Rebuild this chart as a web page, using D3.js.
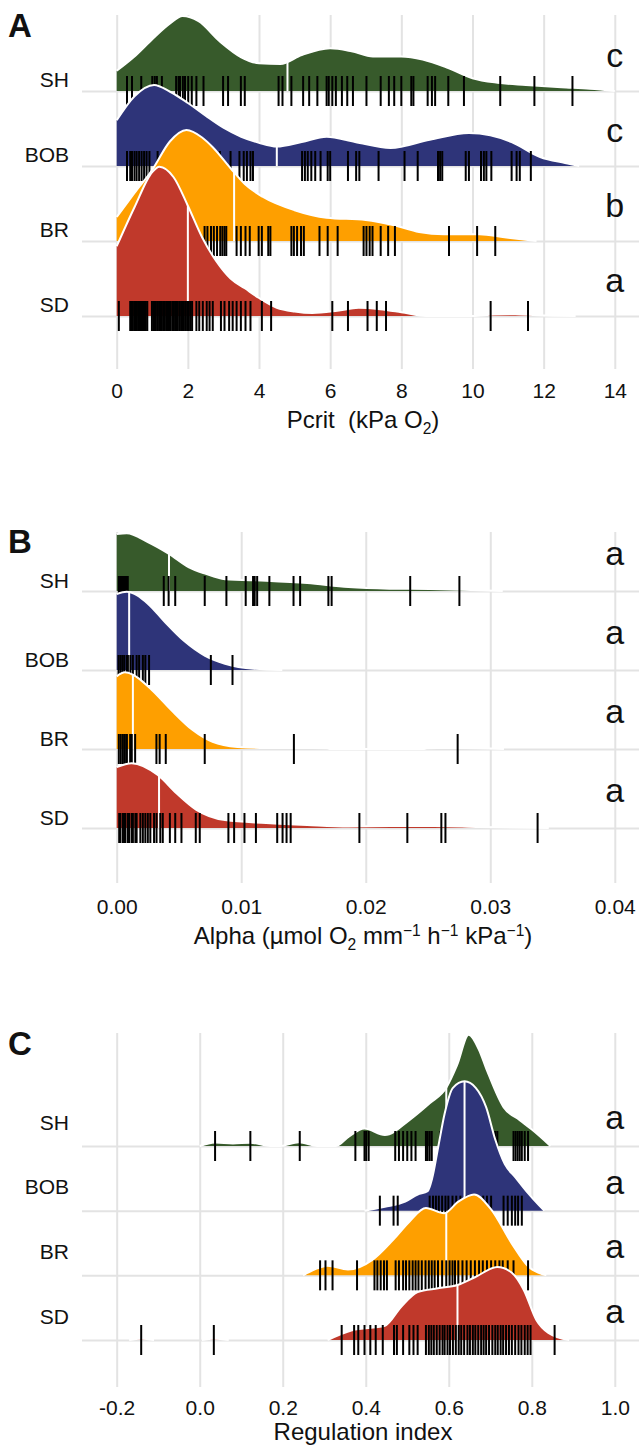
<!DOCTYPE html>
<html lang="en">
  <head>
    <meta charset="utf-8">
    <title>Ridgelines Pcrit / Alpha / Regulation index</title>
    <script src="https://d3js.org/d3.v7.min.js"></script>
    <style>
      body { margin: 0; background: #fff; }
      svg text { font-family: "Liberation Sans", Arial, sans-serif; fill: #111; }
    </style>
  </head>
  <body>
    <div id="chart"></div>
    <script>
      // grupos, de cima para baixo
      var grupos = ["SH", "BOB", "BR", "SD"];
      var cores = ["#375a2b", "#2e3479", "#fe9f00", "#c0392b"];

      // ---- A: Pcrit (kPa O2)
      var pcritTicks = [0, 2, 4, 6, 8, 10, 12, 14];
      var pcritLetras = ["c", "c", "b", "a"];
      var pcritMedianas = [4.8, 4.5, 3.3, 2.0];
      var pcritSH = [0.29, 0.43, 0.69, 1.00, 1.07, 1.13, 1.27, 1.67, 1.74, 1.78, 1.86, 1.92, 2.01, 2.11, 2.24, 2.44,
        2.99, 3.13, 3.49, 3.60, 4.55, 4.66, 4.91, 5.24, 5.41, 5.64, 5.90, 5.96, 6.06, 6.16, 6.33, 6.48, 6.64, 7.02,
        7.42, 7.65, 7.80, 8.00, 8.28, 8.34, 8.74, 8.86, 8.95, 9.32, 9.76, 10.78, 11.74, 12.81];
      var pcritBOB = [0.29, 0.38, 0.43, 0.50, 0.56, 0.63, 0.70, 0.77, 0.84, 0.92, 1.15, 1.3, 1.45, 1.6, 1.8, 2.05,
        2.3, 2.6, 2.9, 3.2, 3.45, 3.57, 3.66, 3.76, 3.83, 5.21, 5.29, 5.37, 5.47, 5.58, 5.73, 5.93, 6.00, 6.50, 6.73,
        6.82, 7.36, 8.09, 8.46, 9.03, 9.09, 9.15, 9.81, 9.90, 10.24, 10.32, 10.39, 10.53, 11.10, 11.24, 11.33, 11.64];
      var pcritBR = [0.6, 0.85, 1.05, 1.2, 1.35, 1.5, 1.65, 1.8, 1.9, 2.0, 2.1, 2.47, 2.55, 2.65, 2.73, 2.82, 2.91,
        2.97, 3.03, 3.08, 3.37, 3.49, 3.62, 3.74, 3.99, 4.08, 4.26, 4.32, 4.91, 4.98, 5.07, 5.18, 5.26, 5.70, 5.93,
        6.21, 6.94, 7.02, 7.11, 7.19, 7.42, 7.63, 7.82, 9.34, 10.13, 10.64];
      var pcritSD = [0.06, 0.38, 0.41, 0.45, 0.49, 0.52, 0.56, 0.6, 0.63, 0.67, 0.71, 0.74, 0.78, 0.82, 0.86, 0.99,
        1.03, 1.07, 1.1, 1.14, 1.19, 1.23, 1.27, 1.31, 1.35, 1.39, 1.43, 1.47, 1.51, 1.56, 1.6, 1.64, 1.68, 1.72,
        1.77, 1.81, 1.85, 1.89, 1.94, 1.98, 2.03, 2.08, 2.12, 2.24, 2.32, 2.42, 2.53, 2.61, 2.70, 2.93, 3.03, 3.16,
        3.26, 3.37, 3.49, 3.62, 3.76, 4.08, 4.34, 6.06, 6.50, 7.05, 7.31, 7.57, 10.51, 11.56];
      // densidades [valor, altura relativa ao espaçamento entre linhas]
      var densPcritSH = [[0, 0.27], [0.5, 0.46], [1.0, 0.69], [1.5, 0.9], [1.85, 1.0], [2.3, 0.93], [2.9, 0.66],
        [3.5, 0.45], [4.0, 0.37], [4.6, 0.36], [5.2, 0.48], [6.0, 0.57], [6.6, 0.53], [7.2, 0.46], [8.0, 0.46],
        [8.6, 0.42], [9.3, 0.31], [10.0, 0.17], [10.7, 0.11], [11.5, 0.08], [12.5, 0.05], [13.3, 0.03], [14.0, 0]];
      var densPcritBOB = [[0, 0.61], [0.5, 0.93], [1.05, 1.08], [1.5, 0.99], [2.0, 0.84], [2.5, 0.67], [3.0, 0.51],
        [3.5, 0.39], [4.0, 0.31], [4.5, 0.26], [5.2, 0.32], [5.9, 0.39], [6.7, 0.32], [7.7, 0.24], [8.8, 0.35],
        [9.9, 0.44], [10.5, 0.41], [11.1, 0.32], [11.9, 0.12], [12.6, 0.04], [13.0, 0]];
      var densPcritBR = [[0, 0.32], [0.5, 0.64], [1.0, 0.95], [1.5, 1.33], [1.96, 1.48], [2.4, 1.38], [2.7, 1.25],
        [3.2, 0.97], [3.6, 0.76], [4.1, 0.59], [5.0, 0.41], [5.9, 0.31], [7.0, 0.28], [7.8, 0.21], [8.5, 0.12],
        [9.2, 0.09], [10.2, 0.09], [10.9, 0.05], [11.8, 0]];
      var densPcritSD = [[0, 0.93], [0.5, 1.45], [1.0, 1.92], [1.2, 1.99], [1.6, 1.85], [2.0, 1.47], [2.4, 1.05],
        [2.8, 0.73], [3.2, 0.5], [3.6, 0.37], [4.0, 0.24], [4.5, 0.11], [5.0, 0.06], [5.5, 0.04], [6.2, 0.07],
        [6.8, 0.11], [7.4, 0.09], [8.0, 0.05], [8.7, 0], [10.0, 0], [10.6, 0.02], [11.2, 0.025], [11.8, 0.01], [12.9, 0]];

      // ---- B: Alpha
      var alphaTicks = [0, 0.01, 0.02, 0.03, 0.04];
      var alphaLetras = ["a", "a", "a", "a"];
      var alphaMedianas = [0.0042, 0.001, 0.0013, 0.0034];
      var alphaSH = [0.00017, 0.0002, 0.0003, 0.00036, 0.0004, 0.0005, 0.00056, 0.0006, 0.0007, 0.00076, 0.0008,
        0.00089, 0.00378, 0.00417, 0.0047, 0.00707, 0.00881, 0.01036, 0.01095, 0.01108, 0.01128, 0.01226, 0.0142,
        0.01473, 0.017, 0.01726, 0.02357, 0.02752];
      var alphaBOB = [0.00015, 0.0003, 0.00045, 0.0006, 0.0008, 0.0009, 0.0011, 0.0013, 0.0016, 0.0018, 0.0021,
        0.0023, 0.0026, 0.00756, 0.0093];
      var alphaBR = [0.00017, 0.00033, 0.0005, 0.00066, 0.00082, 0.00108, 0.00121, 0.00148, 0.00319, 0.00345,
        0.00394, 0.00707, 0.01423, 0.02738];
      var alphaSD = [0.0002, 0.0003, 0.0005, 0.0006, 0.0007, 0.0009, 0.001, 0.0012, 0.0013, 0.0015, 0.0016, 0.0019,
        0.0021, 0.0023, 0.0025, 0.0027, 0.003, 0.0032, 0.0035, 0.0037, 0.00427, 0.0047, 0.0052, 0.00635, 0.00667,
        0.00897, 0.00943, 0.01026, 0.01118, 0.01289, 0.01332, 0.01364, 0.01397, 0.01949, 0.02334, 0.02607, 0.0264, 0.0338];
      var densAlphaSH = [[0, 0.72], [0.0008, 0.73], [0.0025, 0.62], [0.0042, 0.47], [0.0058, 0.30], [0.0071, 0.22],
        [0.0087, 0.15], [0.012, 0.13], [0.0153, 0.10], [0.0186, 0.05], [0.0219, 0.03], [0.0251, 0.025],
        [0.0284, 0.013], [0.031, 0]];
      var densAlphaBOB = [[0, 0.96], [0.0008, 0.99], [0.0025, 0.84], [0.0038, 0.62], [0.0054, 0.37], [0.0071, 0.18],
        [0.0087, 0.08], [0.011, 0.015], [0.0133, 0]];
      var densAlphaBR = [[0, 0.92], [0.00066, 0.97], [0.0013, 0.94], [0.0028, 0.75], [0.0044, 0.49], [0.0061, 0.24],
        [0.0077, 0.09], [0.0097, 0.025], [0.0115, 0.014], [0.014, 0.012], [0.0169, 0.01], [0.0171, 0], [0.0247, 0],
        [0.0249, 0.01], [0.0275, 0.012], [0.0311, 0]];
      var densAlphaSD = [[0, 0.77], [0.0012, 0.82], [0.0033, 0.67], [0.0048, 0.44], [0.0064, 0.23], [0.0087, 0.10],
        [0.012, 0.063], [0.0153, 0.038], [0.0186, 0.02], [0.022, 0.025], [0.0255, 0.025], [0.0291, 0.012], [0.0347, 0]];

      // ---- C: Regulation index
      var regTicks = [-0.2, 0, 0.2, 0.4, 0.6, 0.8, 1.0];
      var regLetras = ["a", "a", "a", "a"];
      var regMedianas = [0.594, 0.638, 0.594, 0.621];
      var regSH = [0.037, 0.122, 0.241, 0.375, 0.397, 0.401, 0.407, 0.471, 0.480, 0.490, 0.500, 0.510, 0.520, 0.545,
        0.549, 0.554, 0.559, 0.58, 0.6, 0.62, 0.63, 0.64, 0.65, 0.66, 0.68, 0.7, 0.712, 0.717, 0.756, 0.761, 0.766,
        0.771, 0.776, 0.783, 0.791];
      var regBOB = [0.434, 0.467, 0.477, 0.554, 0.562, 0.569, 0.576, 0.584, 0.592, 0.599, 0.609, 0.618, 0.628, 0.643,
        0.653, 0.663, 0.673, 0.683, 0.692, 0.702, 0.732, 0.742, 0.752, 0.760, 0.767, 0.776];
      var regBR = [0.290, 0.303, 0.320, 0.379, 0.421, 0.428, 0.436, 0.444, 0.451, 0.472, 0.480, 0.490, 0.497, 0.505,
        0.513, 0.520, 0.527, 0.535, 0.544, 0.552, 0.559, 0.566, 0.574, 0.584, 0.594, 0.602, 0.609, 0.615, 0.623,
        0.633, 0.643, 0.653, 0.663, 0.673, 0.682, 0.692, 0.702, 0.712, 0.722, 0.730, 0.742, 0.756, 0.791];
      var regSD = [-0.141, 0.034, 0.342, 0.372, 0.382, 0.397, 0.411, 0.424, 0.441, 0.468, 0.475, 0.490, 0.505, 0.515,
        0.525, 0.545, 0.552, 0.558, 0.564, 0.571, 0.578, 0.585, 0.59, 0.597, 0.603, 0.61, 0.617, 0.624, 0.63, 0.637,
        0.645, 0.651, 0.658, 0.664, 0.671, 0.678, 0.684, 0.69, 0.697, 0.705, 0.712, 0.718, 0.725, 0.731, 0.738,
        0.745, 0.752, 0.76, 0.768, 0.775, 0.783, 0.79, 0.797, 0.855];
      var densRegSH = [[0.0, 0], [0.037, 0.055], [0.08, 0.04], [0.122, 0.05], [0.17, 0], [0.194, 0], [0.239, 0.057],
        [0.283, 0], [0.328, 0], [0.36, 0.15], [0.397, 0.27], [0.446, 0.17], [0.505, 0.4], [0.554, 0.66], [0.594, 0.9],
        [0.62, 1.25], [0.648, 1.72], [0.672, 1.5], [0.692, 1.17], [0.732, 0.6], [0.771, 0.4], [0.801, 0.25], [0.845, 0]];
      var densRegBOB = [[0.397, 0], [0.446, 0.06], [0.495, 0.14], [0.525, 0.25], [0.549, 0.3], [0.56, 0.5],
        [0.575, 1.0], [0.59, 1.5], [0.61, 1.9], [0.638, 2.0], [0.665, 1.9], [0.69, 1.6], [0.712, 1.1], [0.735, 0.72],
        [0.76, 0.52], [0.79, 0.28], [0.83, 0]];
      var densRegBR = [[0.249, 0], [0.28, 0.1], [0.308, 0.15], [0.357, 0.09], [0.416, 0.24], [0.466, 0.55],
        [0.505, 0.83], [0.545, 1.04], [0.589, 0.96], [0.623, 1.14], [0.661, 1.25], [0.702, 1.02], [0.752, 0.49],
        [0.791, 0.14], [0.835, 0]];
      var densRegSD = [[-0.17, 0], [-0.141, 0.02], [-0.11, 0], null, [0.005, 0], [0.034, 0.02], [0.07, 0], null,
        [0.308, 0], [0.367, 0.15], [0.446, 0.22], [0.485, 0.51], [0.525, 0.74], [0.574, 0.8], [0.621, 0.85],
        [0.663, 0.97], [0.717, 1.13], [0.752, 1.04], [0.781, 0.77], [0.811, 0.31], [0.840, 0.11], [0.89, 0]];

      /*
       * Layout dos três painéis
       */
      var largura = 639, altura = 1454;
      var esquerda = 82, direita = 639;   // faixa das linhas horizontais
      var faixaX = [116.7, 614.8];         // posição do primeiro e do último tick

      var paineis = [
        {letra: "A", letraY: 37, dominio: [0, 14], ticks: pcritTicks, formato: d => String(d),
         letras: pcritLetras, medianas: pcritMedianas,
         pontos: [pcritSH, pcritBOB, pcritBR, pcritSD],
         dens: [densPcritSH, densPcritBOB, densPcritBR, densPcritSD],
         topo: 15, fundo: 369, bases: [91, 316], tickY: 398, tituloY: 428, rotuloDy: 5, letraDy: 24,
         titulo: [["Pcrit\u00a0\u00a0(kPa O"], ["2", "sub"], [")"]]},
        {letra: "B", letraY: 553, dominio: [0, 0.04], ticks: alphaTicks, formato: d => d.toFixed(2),
         letras: alphaLetras, medianas: alphaMedianas,
         pontos: [alphaSH, alphaBOB, alphaBR, alphaSD],
         dens: [densAlphaSH, densAlphaBOB, densAlphaBR, densAlphaSD],
         topo: 532, fundo: 883, bases: [591, 828], tickY: 914, tituloY: 944, rotuloDy: 4, letraDy: 26,
         titulo: [["Alpha (\u00b5mol O"], ["2", "sub"], [" mm"], ["\u22121", "sup"], [" h"], ["\u22121", "sup"],
                  [" kPa"], ["\u22121", "sup"], [")"]]},
        {letra: "C", letraY: 1055, dominio: [-0.2, 1.0], ticks: regTicks, formato: d => d.toFixed(1),
         letras: regLetras, medianas: regMedianas,
         pontos: [regSH, regBOB, regBR, regSD],
         dens: [densRegSH, densRegBOB, densRegBR, densRegSD],
         topo: 1033, fundo: 1387, bases: [1146, 1340], tickY: 1415, tituloY: 1440, rotuloDy: 17, letraDy: 17,
         titulo: [["Regulation index"]]}
      ];

      var svg = d3.select("#chart").append("svg")
        .attr("width", largura)
        .attr("height", altura);

      paineis.forEach(desenhaPainel);

      function desenhaPainel(p, ip) {
        var g = svg.append("g");

        var x = d3.scaleLinear().domain(p.dominio).range(faixaX);
        var y = d3.scalePoint().domain(grupos).range(p.bases);
        var passo = y.step();
        var altura = d3.scaleLinear().domain([0, 1]).range([0, passo]);

        // grade vertical + rótulos do eixo x
        var eixoX = g.append("g")
          .attr("transform", "translate(0," + p.topo + ")")
          .call(d3.axisBottom(x).tickValues(p.ticks).tickFormat(p.formato).tickSize(p.fundo - p.topo));
        eixoX.select(".domain").remove();
        eixoX.selectAll("line").attr("stroke", "#e3e3e3").attr("stroke-width", 2);
        eixoX.selectAll("text")
          .attr("y", p.tickY - p.topo).attr("dy", null)
          .attr("font-size", 21).attr("fill", "#111");

        // grade horizontal + rótulos dos grupos
        var eixoY = g.append("g")
          .attr("transform", "translate(" + esquerda + ",0)")
          .call(d3.axisLeft(y).tickSize(-(direita - esquerda)).tickPadding(13));
        eixoY.select(".domain").remove();
        eixoY.selectAll("line").attr("stroke", "#e3e3e3").attr("stroke-width", 2);
        eixoY.selectAll("text")
          .attr("y", -p.rotuloDy).attr("dy", null)
          .attr("font-size", 21).attr("fill", "#111");

        // ridgelines, de cima para baixo
        grupos.forEach(function(gr, i) {
          var base = y(gr);
          var area = d3.area()
            .defined(d => d !== null)
            .x(d => x(d[0]))
            .y0(base)
            .y1(d => base - altura(d[1]))
            .curve(d3.curveMonotoneX);
          var contorno = area.lineY1();
          var idClip = "clip" + ip + "_" + i;

          var gg = g.append("g");
          gg.append("clipPath").attr("id", idClip)
            .append("path").attr("d", area(p.dens[i]));

          gg.append("path")
            .attr("d", area(p.dens[i]))
            .attr("fill", cores[i]);

          // mediana
          gg.append("line")
            .attr("x1", x(p.medianas[i])).attr("x2", x(p.medianas[i]))
            .attr("y1", base).attr("y2", base - 3 * passo)
            .attr("clip-path", "url(#" + idClip + ")")
            .attr("stroke", "#fff").attr("stroke-width", 2);

          gg.append("path")
            .attr("d", contorno(p.dens[i]))
            .attr("fill", "none")
            .attr("stroke", "#fff").attr("stroke-width", 2);

          // rug
          gg.selectAll("line.rug")
            .data(p.pontos[i])
            .enter()
            .append("line")
              .attr("class", "rug")
              .attr("x1", d => x(d)).attr("x2", d => x(d))
              .attr("y1", base - 15).attr("y2", base + 15)
              .attr("stroke", "#000").attr("stroke-width", 2);
        });

        // letras de significância
        g.selectAll("text.letra")
          .data(p.letras)
          .enter()
          .append("text")
            .attr("class", "letra")
            .attr("x", x(p.dominio[1]))
            .attr("y", (d, i) => y(grupos[i]) - p.letraDy)
            .attr("text-anchor", "middle")
            .attr("font-size", 34)
            .text(d => d);

        // letra do painel
        g.append("text")
          .attr("x", 8).attr("y", p.letraY)
          .attr("font-size", 33).attr("font-weight", "bold")
          .text(p.letra);

        // título do eixo
        var titulo = g.append("text")
          .attr("x", 363).attr("y", p.tituloY)
          .attr("text-anchor", "middle")
          .attr("font-size", 24);
        var desloc = 0;
        p.titulo.forEach(function(parte) {
          var alvo = parte[1] === "sub" ? 6 : parte[1] === "sup" ? -8 : 0;
          var t = titulo.append("tspan").attr("dy", alvo - desloc).text(parte[0]);
          if (parte[1]) t.attr("font-size", "65%");
          desloc = alvo;
        });
      }
    </script>
  </body>
</html>
